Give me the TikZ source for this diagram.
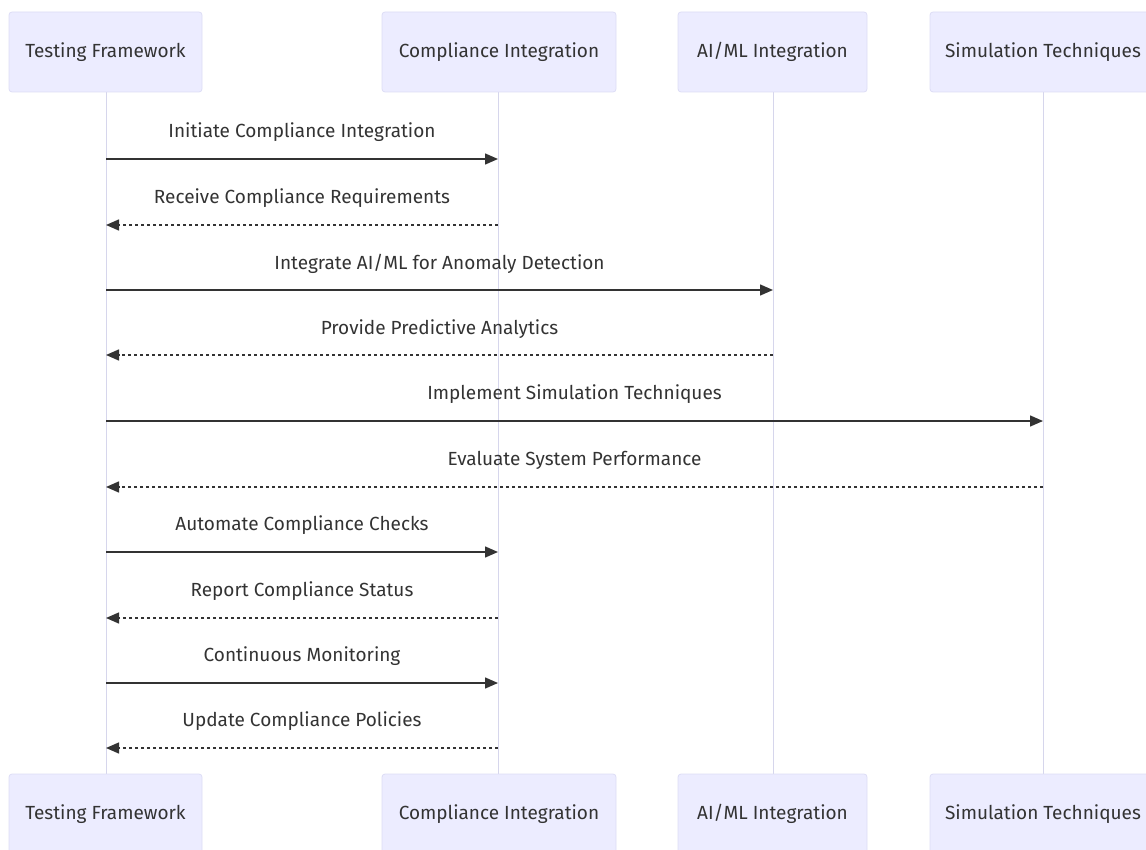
\documentclass[tikz,border=0pt]{standalone}
\usepackage{fontspec}
\setmainfont{Fira Sans}
\usetikzlibrary{arrows.meta}
\definecolor{actfill}{HTML}{ECECFF}
\definecolor{actline}{HTML}{DDDDF5}
\definecolor{life}{HTML}{D6D6EC}
\definecolor{ink}{HTML}{333333}
\tikzset{
  x=1pt, y=-1pt,
  actor/.style={draw=actline, fill=actfill, rounded corners=3pt, minimum height=80pt, inner sep=0pt, font=\fontsize{19}{22}\selectfont, text=ink, line width=0.8pt},
  lifeline/.style={draw=life, line width=1pt},
  msg/.style={draw=ink, line width=1.4pt, -{Triangle[length=13pt,width=11pt]}},
  reply/.style={msg, dash pattern=on 3pt off 3pt},
  lbl/.style={font=\fontsize{19}{22}\selectfont, text=ink, inner sep=0pt},
}
\begin{document}
\begin{tikzpicture}
\useasboundingbox (0,0) rectangle (1146,850);
% lifelines
\coordinate (tfT) at (106,92); \coordinate (tfB) at (106,774);
\coordinate (ciT) at (498,92); \coordinate (ciB) at (498,774);
\coordinate (aiT) at (773,92); \coordinate (aiB) at (773,774);
\coordinate (siT) at (1043,92); \coordinate (siB) at (1043,774);
\draw[lifeline] (tfT) -- (tfB);
\draw[lifeline] (ciT) -- (ciB);
\draw[lifeline] (aiT) -- (aiB);
\draw[lifeline] (siT) -- (siB);
% actors top
\node[actor, minimum width=193pt] (tf1) at (105.5,52) {Testing Framework};
\node[actor, minimum width=234pt] (ci1) at (499,52) {Compliance Integration};
\node[actor, minimum width=189pt] (ai1) at (772.5,52) {AI/ML Integration};
\node[actor, minimum width=226pt] (si1) at (1043,52) {Simulation Techniques};
% actors bottom
\node[actor, minimum width=193pt] (tf2) at (105.5,814) {Testing Framework};
\node[actor, minimum width=234pt] (ci2) at (499,814) {Compliance Integration};
\node[actor, minimum width=189pt] (ai2) at (772.5,814) {AI/ML Integration};
\node[actor, minimum width=226pt] (si2) at (1043,814) {Simulation Techniques};
% message endpoints
\foreach \n/\y in {1/159,2/225,3/290,4/355,5/421,6/487,7/552,8/618,9/683,10/748}{
  \coordinate (tf\n) at (106,\y);
  \coordinate (ci\n) at (498,\y);
  \coordinate (ai\n) at (773,\y);
  \coordinate (si\n) at (1043,\y);
}
\draw[msg] (tf1) -- (ci1);
\draw[reply] (ci2) -- (tf2);
\draw[msg] (tf3) -- (ai3);
\draw[reply] (ai4) -- (tf4);
\draw[msg] (tf5) -- (si5);
\draw[reply] (si6) -- (tf6);
\draw[msg] (tf7) -- (ci7);
\draw[reply] (ci8) -- (tf8);
\draw[msg] (tf9) -- (ci9);
\draw[reply] (ci10) -- (tf10);
% labels
\node[lbl] (l1) at (302,132) {Initiate Compliance Integration};
\node[lbl] (l2) at (302,198) {Receive Compliance Requirements};
\node[lbl] (l3) at (439.5,264) {Integrate AI/ML for Anomaly Detection};
\node[lbl] (l4) at (439.5,329) {Provide Predictive Analytics};
\node[lbl] (l5) at (574.5,394) {Implement Simulation Techniques};
\node[lbl] (l6) at (574.5,460) {Evaluate System Performance};
\node[lbl] (l7) at (302,525) {Automate Compliance Checks};
\node[lbl] (l8) at (302,591) {Report Compliance Status};
\node[lbl] (l9) at (302,656) {Continuous Monitoring};
\node[lbl] (l10) at (302,721) {Update Compliance Policies};
\end{tikzpicture}
\end{document}
